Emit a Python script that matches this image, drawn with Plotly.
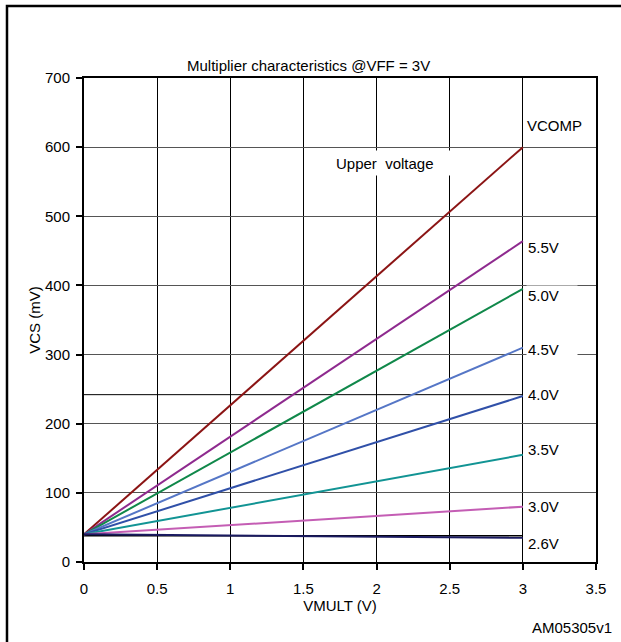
import plotly.graph_objects as go

vmult = [0, 3]
start_mv = 40
series_names = ["VCOMP", "5.5V", "5.0V", "4.5V", "4.0V", "3.5V", "3.0V", "2.6V"]
end_mv = [600, 464, 395, 310, 240, 155, 80, 35]
colors = ["#8B1414", "#8E2A8E", "#10884A", "#5576C6", "#3050A8", "#129494", "#C45DB4", "#1A1A60"]
label_y = [632, 455, 385, 307, 242, 162, 80, 27]
x_ticks = [0, 0.5, 1, 1.5, 2, 2.5, 3, 3.5]
y_ticks = [0, 100, 200, 300, 400, 500, 600, 700]

FONT = "Liberation Sans, Arial, sans-serif"
FS = 15

fig = go.Figure()

# guide lines visible in the original drawing
fig.add_trace(go.Scatter(x=vmult, y=[end_mv[4] + 2] * 2, mode="lines",
                         line=dict(color="black", width=1), showlegend=False, hoverinfo="skip"))
fig.add_trace(go.Scatter(x=vmult, y=[start_mv - 2] * 2, mode="lines",
                         line=dict(color="black", width=1.5), showlegend=False, hoverinfo="skip"))

for name, e, c in zip(series_names, end_mv, colors):
    fig.add_trace(go.Scatter(x=vmult, y=[start_mv, e], mode="lines", name=name,
                             line=dict(color=c, width=2), showlegend=False))

for name, ly in zip(series_names, label_y):
    if name == "VCOMP":
        fig.add_annotation(x=3, y=ly, text=name, showarrow=False, xanchor="left",
                           xshift=2, bgcolor="white",
                           font=dict(size=FS, color="black", family=FONT))
    else:
        fig.add_annotation(x=3, y=ly, text=name, showarrow=False, xanchor="left",
                           xshift=3, bgcolor="white", width=48, align="left",
                           font=dict(size=FS, color="black", family=FONT))

fig.add_annotation(x=2.127, y=577, text="Upper  voltage", showarrow=False, bgcolor="white",
                   width=118, height=22, align="left",
                   font=dict(size=FS, color="black", family=FONT))

fig.add_annotation(x=0.4375, y=1.0, xref="paper", yref="paper", yshift=23,
                   text="Multiplier characteristics @VFF = 3V",
                   showarrow=False, font=dict(size=FS, color="black", family=FONT))
fig.add_annotation(x=1.0, y=0, xref="paper", yref="paper", yshift=-65, xshift=18,
                   text="AM05305v1", showarrow=False, xanchor="right", yanchor="middle",
                   font=dict(size=FS, color="black", family=FONT))

# outer page frame (left and top rules of the document box)
fig.add_shape(type="rect", xref="paper", yref="paper", x0=-0.1504, x1=1.2, y0=-0.3, y1=1.1488,
              line=dict(color="black", width=2.5), layer="above")

fig.update_xaxes(range=[0, 3.5], tickvals=x_ticks, ticktext=[f"{v:g}" for v in x_ticks],
                 showgrid=True, gridcolor="black", gridwidth=1,
                 showline=True, linecolor="black", linewidth=2, mirror=True,
                 ticks="outside", ticklen=6, tickcolor="black", tickwidth=2,
                 ticklabelstandoff=6,
                 zeroline=False, title=dict(text="VMULT (V)", standoff=2,
                                            font=dict(size=FS, color="black", family=FONT)),
                 tickfont=dict(size=FS, color="black", family=FONT))
fig.update_yaxes(range=[0, 700], tickvals=y_ticks,
                 showgrid=True, gridcolor="#555555", gridwidth=1,
                 showline=True, linecolor="black", linewidth=2, mirror=True,
                 ticks="outside", ticklen=6, tickcolor="black", tickwidth=2,
                 ticklabelstandoff=3,
                 zeroline=False, title=dict(text="VCS (mV)", standoff=1,
                                            font=dict(size=FS, color="black", family=FONT)),
                 tickfont=dict(size=FS, color="black", family=FONT))

fig.update_layout(width=621, height=642, margin=dict(l=84, r=25, t=78, b=80),
                  plot_bgcolor="white", paper_bgcolor="white",
                  font=dict(family=FONT, color="black"))

fig.write_html("out.html", config={"displayModeBar": False},
               post_script="document.body.style.margin='0';")
